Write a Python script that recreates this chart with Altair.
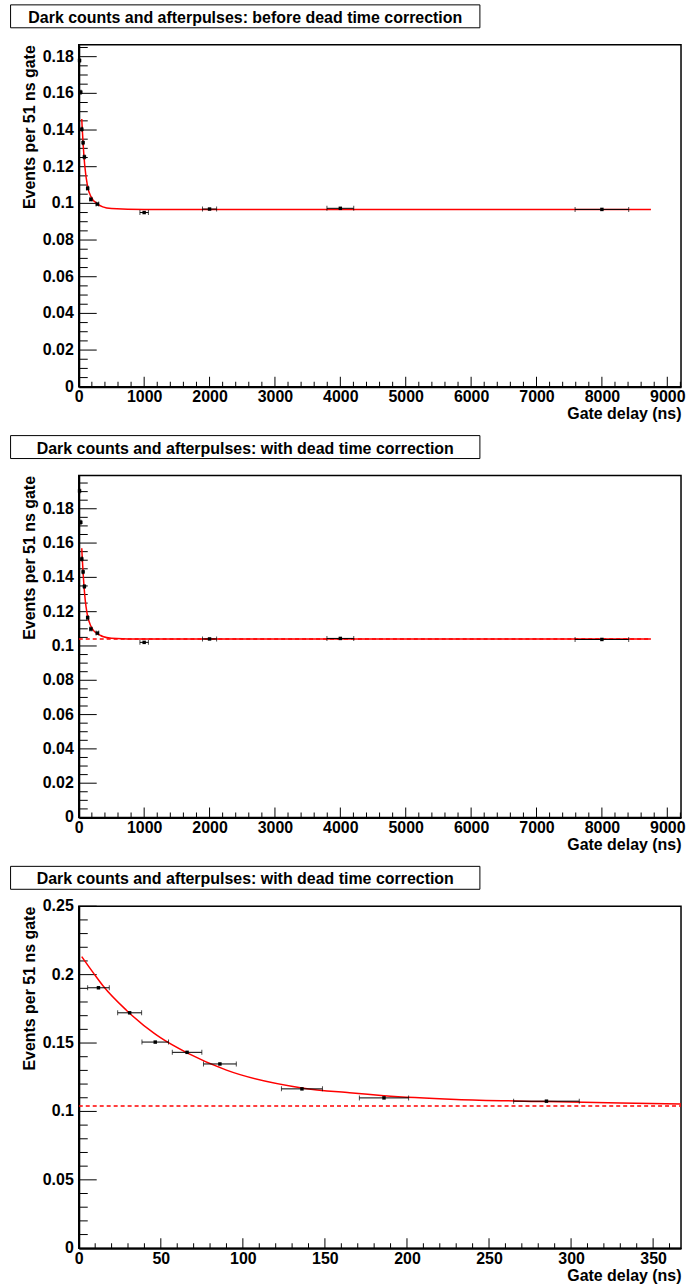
import altair as alt
import pandas as pd

# Measured gate delays (ns) and the half-width of each delay bin (ns)
gate_ns = [12, 31, 46.6, 66, 86, 136, 186, 285, 1000, 2000, 4000, 8000]
gate_halfwidth_ns = [6.6, 7.3, 8.1, 9.0, 10.0, 12.5, 15.0, 20.0, 65, 108, 205, 410]

# Events per 51 ns gate, before and after the dead time correction
rate_before = [0.1779, 0.1606, 0.1404, 0.1331, 0.1253, 0.1082, 0.1022, 0.0996,
               0.0950, 0.0969, 0.0973, 0.0967]
rate_after = [0.1904, 0.1721, 0.1507, 0.1432, 0.1347, 0.1165, 0.1099, 0.1075,
              0.1021, 0.1041, 0.1044, 0.1038]

# Fitted afterpulse curves (dark level + decaying afterpulse term)
fit_before_x = [46, 50, 66, 90, 136, 186, 285, 367, 500, 1000, 8750]
fit_before_y = [0.1460, 0.1430, 0.1328, 0.1211, 0.1090, 0.1037, 0.0997, 0.0981,
                0.0972, 0.0967, 0.0966]
fit_after_x = [1.8, 9, 15, 29, 46, 50, 66, 90, 136, 165, 186, 230, 285, 330, 367,
               500, 1000, 8750]
fit_after_y = [0.2132, 0.2011, 0.1915, 0.1740, 0.1570, 0.1537, 0.1428, 0.1302,
               0.1172, 0.1136, 0.1115, 0.1088, 0.1072, 0.1062, 0.1055, 0.1045,
               0.1040, 0.1040]

# Dark count level after correction
dark_level = 0.104

# Axis tick labels
y_labels_wide = [0, 0.02, 0.04, 0.06, 0.08, 0.1, 0.12, 0.14, 0.16, 0.18]
y_labels_zoom = [0, 0.05, 0.1, 0.15, 0.2, 0.25]
x_labels_wide = [0, 1000, 2000, 3000, 4000, 5000, 6000, 7000, 8000, 9000]
x_labels_zoom = [0, 50, 100, 150, 200, 250, 300, 350]

TITLE_BEFORE = "Dark counts and afterpulses: before dead time correction"
TITLE_AFTER = "Dark counts and afterpulses: with dead time correction"

W, H = 604, 343
FONT = "Liberation Sans"

points = pd.DataFrame({
    "gate": gate_ns,
    "half": gate_halfwidth_ns,
    "before": rate_before,
    "after": rate_after,
})
curve_before = pd.DataFrame({"x": fit_before_x, "y": fit_before_y})
curve_after = pd.DataFrame({"x": fit_after_x, "y": fit_after_y})


def minor_ticks(step, major, upper):
    n = int(round(upper / step))
    vals = [round(i * step, 6) for i in range(1, n + 1)]
    return [v for v in vals if abs(v / major - round(v / major)) > 1e-6 and v <= upper]


def panel(title, rate_field, y_max, y_labels, y_minor_step, x_max, x_labels,
          x_minor_step, curve_df, curve_range, dash_range):
    xs = alt.Scale(domain=[0, x_max], nice=False, zero=False)
    ys = alt.Scale(domain=[0, y_max], nice=False, zero=False)

    x_axis = alt.Axis(
        values=x_labels, format="d", ticks=False, grid=False,
        domain=True, domainColor="black", domainWidth=2,
        labelFont=FONT, labelFontSize=16, labelFontWeight="bold",
        labelColor="black", labelPadding=2, labelFlush=False, labelOverlap=False,
        title="Gate delay (ns)", titleFont=FONT, titleFontSize=16,
        titleFontWeight="bold", titleColor="black", titleAlign="right",
        titleAnchor="end", titleX=W, titleY=32, titleBaseline="alphabetic",
    )
    y_axis = alt.Axis(
        labels=False, ticks=False, grid=False,
        domain=True, domainColor="black", domainWidth=2,
        title="Events per 51 ns gate", titleFont=FONT, titleFontSize=16,
        titleFontWeight="bold", titleColor="black", titleAngle=270,
        titleAlign="right", titleBaseline="alphabetic", titleX=-44.5, titleY=0,
    )

    base = alt.Chart(points).transform_filter(
        f"datum.gate <= {x_max}"
    ).transform_calculate(lo="datum.gate - datum.half", hi="datum.gate + datum.half")
    rate = f"{rate_field}:Q"

    # invisible layer that carries both axes
    axes_layer = base.mark_point(opacity=0).encode(
        x=alt.X("gate:Q", scale=xs, axis=x_axis),
        y=alt.Y(rate, scale=ys, axis=y_axis))

    # y tick labels
    y_label_layer = alt.Chart(pd.DataFrame({"v": y_labels})).transform_calculate(
        lbl="format(datum.v, '~g')"
    ).mark_text(
        align="right", baseline="middle", font=FONT, fontSize=16,
        fontWeight="bold", color="black"
    ).encode(y=alt.Y("v:Q", scale=ys), x=alt.value(-5), text="lbl:N")

    label_df = pd.DataFrame({"t": [title]})
    box = alt.Chart(label_df).mark_rect(
        fill="white", stroke="black", strokeWidth=1
    ).encode(x=alt.value(-68.4), x2=alt.value(402.3), y=alt.value(-40), y2=alt.value(-17))
    box_text = alt.Chart(label_df).mark_text(
        align="center", baseline="alphabetic", font=FONT, fontSize=16,
        fontWeight="bold", color="black"
    ).encode(x=alt.value(167), y=alt.value(-22), text="t:N")

    y_step = y_labels[1]
    x_step = x_labels[1]
    y_major_df = pd.DataFrame({"v": [v for v in y_labels if v > 0]})
    y_minor_df = pd.DataFrame({"v": minor_ticks(y_minor_step, y_step, y_max)})
    x_major_df = pd.DataFrame({"v": [v for v in x_labels if v > 0]})
    x_minor_df = pd.DataFrame({"v": minor_ticks(x_minor_step, x_step, x_max)})

    def y_ticks(df, length):
        return alt.Chart(df).mark_rule(color="black", strokeWidth=1).encode(
            y=alt.Y("v:Q", scale=ys), x=alt.value(0), x2=alt.value(length))

    def x_ticks(df, length):
        return alt.Chart(df).mark_rule(color="black", strokeWidth=1).encode(
            x=alt.X("v:Q", scale=xs), y=alt.value(H), y2=alt.value(H - length))

    layers = [axes_layer, y_label_layer, box, box_text,
              y_ticks(y_major_df, 18), y_ticks(y_minor_df, 9),
              x_ticks(x_major_df, 10), x_ticks(x_minor_df, 5)]

    if dash_range is not None:
        dash_df = pd.DataFrame({"x": list(dash_range), "y": [dark_level, dark_level]})
        layers.append(alt.Chart(dash_df).mark_line(
            color="#ff0000", strokeWidth=1.5, strokeDash=[4, 3], clip=True
        ).encode(x=alt.X("x:Q", scale=xs), y=alt.Y("y:Q", scale=ys)))

    lo_x, hi_x = curve_range
    layers.append(alt.Chart(curve_df).transform_filter(
        f"datum.x >= {lo_x} && datum.x <= {hi_x}"
    ).mark_line(color="#ff0000", strokeWidth=1.5, interpolate="monotone", clip=True).encode(
        x=alt.X("x:Q", scale=xs), y=alt.Y("y:Q", scale=ys)))

    layers.append(base.mark_rule(color="black", strokeWidth=1).encode(
        x=alt.X("lo:Q", scale=xs), x2="hi:Q", y=alt.Y(rate, scale=ys)))
    for end in ("lo", "hi"):
        layers.append(base.mark_tick(color="black", orient="vertical", size=5,
                                     thickness=1).encode(
            x=alt.X(f"{end}:Q", scale=xs), y=alt.Y(rate, scale=ys)))
    layers.append(base.mark_square(color="black", size=12, opacity=1).encode(
        x=alt.X("gate:Q", scale=xs), y=alt.Y(rate, scale=ys)))

    return alt.layer(*layers).properties(width=W, height=H)


p1 = panel(TITLE_BEFORE, "before", 0.1865, y_labels_wide, 0.005, 9210,
           x_labels_wide, 200, curve_before, (46, 8750), None)
p2 = panel(TITLE_AFTER, "after", 0.1994, y_labels_wide, 0.005, 9210,
           x_labels_wide, 200, curve_after, (46, 8750), (0, 8750))
p3 = panel(TITLE_AFTER, "after", 0.25, y_labels_zoom, 0.01, 367,
           x_labels_zoom, 10, curve_after, (0, 367), (0, 367))

chart = alt.vconcat(p1, p2, p3, spacing=11).properties(
    padding={"left": 9, "top": 1, "right": 0, "bottom": 0},
    background="white",
).configure_view(
    stroke="black", strokeWidth=1.5
)

chart.save("out.html", embed_options={"renderer": "svg", "actions": False})
